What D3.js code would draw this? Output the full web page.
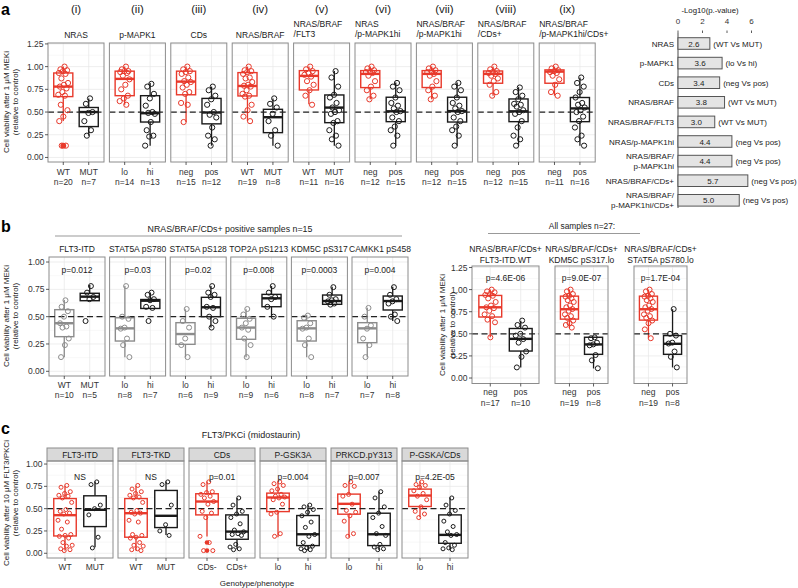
<!DOCTYPE html>
<html><head><meta charset="utf-8">
<script src="https://cdn.jsdelivr.net/npm/d3@7"></script>
<style>body{margin:0;background:#fff} svg{display:block} text{font-family:"Liberation Sans",Arial,Helvetica,sans-serif}</style>
</head><body><svg id="fig" width="798" height="588"></svg>
<script>
// ================= DATA =================
// ---- panel a (boxplots) ----
const aNumerals = ["(i)","(ii)","(iii)","(iv)","(v)","(vi)","(vii)","(viii)","(ix)"];
const aTitles = [["NRAS"],["p-MAPK1"],["CDs"],["NRAS/BRAF"],["NRAS/BRAF","/FLT3"],["NRAS","/p-MAPK1hi"],["NRAS/BRAF","/p-MAPK1hi"],["NRAS/BRAF","/CDs+"],["NRAS/BRAF","/p-MAPK1hi/CDs+"]];
const aGroups = [["WT","MUT"],["lo","hi"],["neg","pos"],["WT","MUT"],["WT","MUT"],["neg","pos"],["neg","pos"],["neg","pos"],["neg","pos"]];
const aCounts = [[20,7],[14,13],[15,12],[19,8],[11,16],[12,15],[12,15],[12,15],[11,16]];
const aYTicks = [0,0.25,0.5,0.75,1.0,1.25];
// box stats: [lower whisker, q1, median, q3, upper whisker]
const aBoxes = [
  [[0.40,0.67,0.78,0.93,1.0],[0.24,0.34,0.50,0.55,0.65]],
  [[0.58,0.68,0.865,0.95,1.0],[0.13,0.39,0.487,0.68,0.82]],
  [[0.39,0.69,0.835,0.95,1.0],[0.13,0.37,0.495,0.65,0.78]],
  [[0.40,0.677,0.787,0.934,1.0],[0.13,0.273,0.443,0.53,0.65]],
  [[0.585,0.743,0.898,0.956,1.0],[0.13,0.383,0.549,0.688,0.953]],
  [[0.64,0.769,0.92,0.956,1.0],[0.13,0.394,0.508,0.663,0.824]],
  [[0.64,0.77,0.92,0.956,1.0],[0.13,0.39,0.51,0.663,0.824]],
  [[0.68,0.817,0.92,0.952,1.0],[0.13,0.394,0.508,0.644,0.773]],
  [[0.68,0.817,0.945,0.964,1.0],[0.13,0.394,0.54,0.66,0.88]]
];
const aOutliers = [[[0.13],[]],[[],[]],[[],[]],[[],[]],[[],[]],[[],[]],[[],[]],[[],[]],[[],[]]];
const aPoints = [
  [[1.0,0.97,0.96,0.95,0.93,0.92,0.87,0.82,0.80,0.78,0.76,0.72,0.69,0.68,0.58,0.52,0.45,0.40,0.13,0.13],[0.65,0.59,0.50,0.49,0.40,0.30,0.24]],
  [[1.0,0.97,0.95,0.95,0.94,0.93,0.90,0.86,0.80,0.75,0.68,0.65,0.62,0.58],[0.81,0.78,0.70,0.65,0.57,0.50,0.49,0.48,0.39,0.30,0.24,0.23,0.13]],
  [[1.0,0.97,0.95,0.94,0.92,0.88,0.84,0.83,0.80,0.77,0.72,0.70,0.60,0.58,0.39],[0.78,0.74,0.68,0.64,0.58,0.50,0.47,0.44,0.33,0.24,0.20,0.13]],
  [[1.0,0.96,0.95,0.94,0.92,0.88,0.87,0.83,0.80,0.79,0.78,0.74,0.70,0.68,0.67,0.58,0.52,0.45,0.40],[0.65,0.59,0.55,0.48,0.40,0.30,0.24,0.13]],
  [[1.0,0.97,0.95,0.93,0.91,0.89,0.84,0.80,0.74,0.68,0.58],[0.95,0.88,0.78,0.69,0.66,0.60,0.55,0.52,0.50,0.48,0.40,0.38,0.30,0.24,0.20,0.13]],
  [[1.0,0.98,0.96,0.95,0.94,0.93,0.90,0.84,0.78,0.74,0.68,0.64],[0.82,0.78,0.74,0.66,0.60,0.57,0.54,0.51,0.50,0.44,0.40,0.34,0.30,0.24,0.13]],
  [[1.0,0.98,0.96,0.95,0.94,0.92,0.90,0.84,0.78,0.74,0.68,0.64],[0.82,0.78,0.74,0.66,0.60,0.57,0.54,0.51,0.50,0.44,0.40,0.34,0.30,0.24,0.13]],
  [[1.0,0.97,0.95,0.94,0.93,0.92,0.90,0.87,0.84,0.80,0.72,0.68],[0.77,0.72,0.68,0.64,0.59,0.58,0.56,0.52,0.50,0.48,0.40,0.33,0.24,0.20,0.13]],
  [[1.0,0.98,0.96,0.95,0.94,0.93,0.90,0.86,0.80,0.72,0.68],[0.88,0.82,0.78,0.72,0.66,0.60,0.58,0.55,0.52,0.50,0.45,0.40,0.33,0.24,0.20,0.13]]
];
// ---- panel a (bar chart) ----
const barCats = [["NRAS"],["p-MAPK1"],["CDs"],["NRAS/BRAF"],["NRAS/BRAF/FLT3"],["NRAS/p-MAPK1hi"],["NRAS/BRAF/","p-MAPK1hi"],["NRAS/BRAF/CDs+"],["NRAS/BRAF/","p-MAPK1hi/CDs+"]];
const barVals = [2.6,3.6,3.4,3.8,3.0,4.4,4.4,5.7,5.0];
const barNotes = ["(WT Vs MUT)","(lo Vs hi)","(neg Vs pos)","(WT Vs MUT)","(WT Vs MUT)","(neg Vs pos)","(neg Vs pos)","(neg Vs pos)","(neg Vs pos)"];
const barTicks = [0,2,4,6];

// ---- panel b (left) ----
const bTitles = ["FLT3-ITD","STAT5A pS780","STAT5A pS128","TOP2A pS1213","KDM5C pS317","CAMKK1 pS458"];
const bGroups = [["WT","MUT"],["lo","hi"],["lo","hi"],["lo","hi"],["lo","hi"],["lo","hi"]];
const bCounts = [[10,5],[8,7],[6,9],[9,6],[8,7],[7,8]];
const bPvals = ["p=0.012","p=0.03","p=0.02","p=0.008","p=0.0003","p=0.004"];
const bYTicks = [0,0.25,0.5,0.75,1.0];
const bBoxes = [
  [[0.128,0.317,0.44,0.564,0.652],[0.646,0.646,0.683,0.714,0.79]],
  [[0.128,0.277,0.393,0.49,0.78],[0.575,0.575,0.646,0.657,0.72]],
  [[0.128,0.247,0.341,0.445,0.567],[0.40,0.50,0.586,0.677,0.78]],
  [[0.128,0.293,0.40,0.485,0.567],[0.50,0.591,0.668,0.704,0.78]],
  [[0.128,0.277,0.393,0.463,0.515],[0.61,0.613,0.643,0.698,0.774]],
  [[0.128,0.262,0.393,0.445,0.582],[0.46,0.561,0.643,0.689,0.774]]
];
const bPoints = [
  [[0.65,0.59,0.55,0.50,0.44,0.41,0.40,0.30,0.24,0.13],[0.78,0.72,0.68,0.66,0.46]],
  [[0.78,0.50,0.48,0.40,0.39,0.30,0.24,0.13],[0.72,0.70,0.66,0.65,0.59,0.58,0.46]],
  [[0.57,0.46,0.40,0.30,0.24,0.13],[0.78,0.72,0.70,0.68,0.59,0.58,0.50,0.46,0.40]],
  [[0.57,0.52,0.48,0.44,0.40,0.38,0.30,0.24,0.13],[0.78,0.72,0.68,0.66,0.59,0.50]],
  [[0.51,0.49,0.44,0.40,0.39,0.30,0.24,0.13],[0.77,0.70,0.66,0.65,0.64,0.62,0.61]],
  [[0.58,0.50,0.42,0.39,0.30,0.24,0.13],[0.77,0.70,0.66,0.64,0.62,0.52,0.50,0.46]]
];

// ---- panel b (right) ----
const brTitles = [["NRAS/BRAF/CDs+","FLT3-ITD.WT"],["NRAS/BRAF/CDs+","KDM5C pS317.lo"],["NRAS/BRAF/CDs+","STAT5A pS780.lo"]];
const brGroups = [["neg","pos"],["neg","pos"],["neg","pos"]];
const brCounts = [[17,10],[19,8],[19,8]];
const brPvals = ["p=4.6E-06","p=9.0E-07","p=1.7E-04"];
const brBoxes = [
  [[0.46,0.69,0.80,0.934,1.0],[0.12,0.305,0.443,0.56,0.647]],
  [[0.566,0.666,0.778,0.926,1.0],[0.108,0.268,0.38,0.461,0.461]],
  [[0.45,0.655,0.778,0.926,1.0],[0.12,0.268,0.387,0.48,0.778]]
];
const brPoints = [
  [[1.0,0.98,0.97,0.95,0.94,0.93,0.90,0.86,0.82,0.80,0.79,0.76,0.72,0.70,0.66,0.63,0.46],[0.65,0.60,0.57,0.50,0.48,0.44,0.40,0.30,0.24,0.12]],
  [[1.0,0.98,0.95,0.93,0.92,0.90,0.88,0.86,0.82,0.80,0.78,0.76,0.72,0.70,0.68,0.65,0.62,0.60,0.57],[0.46,0.45,0.40,0.38,0.37,0.26,0.20,0.11]],
  [[1.0,0.98,0.95,0.93,0.92,0.90,0.88,0.86,0.82,0.80,0.78,0.76,0.72,0.70,0.68,0.65,0.62,0.55,0.45],[0.78,0.50,0.48,0.40,0.39,0.30,0.24,0.12]]
];

// ---- panel c ----
const cTitles = ["FLT3-ITD","FLT3-TKD","CDs","P-GSK3A","PRKCD.pY313","P-GSKA/CDs"];
const cGroups = [["WT","MUT"],["WT","MUT"],["CDs-","CDs+"],["lo","hi"],["lo","hi"],["lo","hi"]];
const cLabels = ["NS","NS","p=0.01","p=0.004","p=0.007","p=4.2E-05"];
const cYTicks = [0,0.25,0.5,0.75,1.0];
const cBoxes = [
  [[0.03,0.194,0.427,0.613,0.756],[0.067,0.299,0.487,0.644,0.805]],
  [[0.03,0.18,0.449,0.613,0.756],[0.205,0.288,0.42,0.704,0.805]],
  [[0.187,0.43,0.58,0.667,0.805],[0.045,0.157,0.243,0.43,0.618]],
  [[0.18,0.467,0.625,0.674,0.805],[0.03,0.086,0.213,0.423,0.543]],
  [[0.18,0.438,0.554,0.663,0.797],[0.037,0.086,0.213,0.449,0.692]],
  [[0.404,0.524,0.647,0.719,0.805],[0.045,0.112,0.206,0.43,0.625]]
];
const cOutliers = [[[],[]],[[],[]],[[0.12,0.03],[]],[[],[]],[[],[]],[[],[]]];
const cPoints = [
  [[0.76,0.74,0.69,0.67,0.65,0.64,0.62,0.57,0.49,0.47,0.45,0.44,0.37,0.35,0.27,0.21,0.20,0.19,0.17,0.12,0.09,0.08,0.05,0.04,0.03],[0.80,0.77,0.54,0.50,0.43,0.18,0.06]],
  [[0.76,0.72,0.69,0.67,0.65,0.63,0.62,0.57,0.48,0.46,0.45,0.44,0.37,0.35,0.21,0.20,0.18,0.17,0.12,0.09,0.08,0.05,0.04,0.03],[0.80,0.77,0.54,0.32,0.25,0.20]],
  [[0.80,0.77,0.69,0.68,0.66,0.64,0.62,0.58,0.55,0.47,0.45,0.40,0.19,0.12,0.03,0.03],[0.62,0.54,0.47,0.44,0.40,0.33,0.26,0.24,0.22,0.21,0.20,0.10,0.07,0.05,0.04]],
  [[0.80,0.78,0.76,0.72,0.70,0.66,0.64,0.63,0.62,0.60,0.55,0.46,0.44,0.22,0.19],[0.54,0.52,0.49,0.46,0.42,0.35,0.29,0.21,0.19,0.12,0.08,0.06,0.05,0.04,0.03]],
  [[0.80,0.76,0.75,0.66,0.64,0.55,0.48,0.46,0.42,0.36,0.22,0.19],[0.69,0.62,0.52,0.45,0.40,0.30,0.22,0.20,0.10,0.07,0.05,0.04]],
  [[0.80,0.77,0.76,0.74,0.70,0.67,0.64,0.60,0.52,0.47,0.44,0.40],[0.62,0.54,0.48,0.44,0.36,0.30,0.24,0.21,0.20,0.12,0.09,0.06,0.05,0.04]]
];

// ================= DRAWING =================
const RED = "#e8392b", BLK = "#1a1a1a", GRY = "#8c8c8c";
const TXT = "#333";
const svg = d3.select("#fig");
const fmt = d3.format(".2f");

function txt(g, x, y, s, size, anchor, extra) {
  const t = g.append("text").attr("x", x).attr("y", y).attr("font-size", size)
    .attr("text-anchor", anchor || "middle").attr("fill", (extra && extra.fill) || TXT).text(s);
  if (extra && extra.weight) t.attr("font-weight", extra.weight);
  return t;
}

function facet(o) {
  const g = svg.append("g");
  const x = d3.scalePoint().domain(o.groups).range([o.x0, o.x1]).padding(0.6);
  const step = x.step();
  const y = o.y;
  const yb = y.range()[0], yt = y.range()[1];
  for (let i = 0; i < o.ticks.length - 1; i++) {
    const m = (o.ticks[i] + o.ticks[i + 1]) / 2;
    g.append("line").attr("x1", o.x0).attr("x2", o.x1).attr("y1", y(m)).attr("y2", y(m)).attr("stroke", "#f3f3f3").attr("stroke-width", 0.6);
  }
  o.ticks.forEach(v => g.append("line").attr("x1", o.x0).attr("x2", o.x1).attr("y1", y(v)).attr("y2", y(v)).attr("stroke", "#e6e6e6").attr("stroke-width", 0.7));
  o.groups.forEach(gn => g.append("line").attr("x1", x(gn)).attr("x2", x(gn)).attr("y1", yt).attr("y2", yb).attr("stroke", "#e6e6e6").attr("stroke-width", 0.7));
  const bw = step * 0.75;
  o.groups.forEach((gn, k) => {
    const [wl, q1, md, q3, wh] = o.boxes[k];
    const col = o.colors[k], cx = x(gn);
    g.append("line").attr("x1", cx).attr("x2", cx).attr("y1", y(wh)).attr("y2", y(q3)).attr("stroke", col).attr("stroke-width", 1.3);
    g.append("line").attr("x1", cx).attr("x2", cx).attr("y1", y(q1)).attr("y2", y(wl)).attr("stroke", col).attr("stroke-width", 1.3);
    g.append("rect").attr("x", cx - bw / 2).attr("y", y(q3)).attr("width", bw).attr("height", Math.max(0.5, y(q1) - y(q3)))
      .attr("fill", "#fff").attr("stroke", col).attr("stroke-width", 1.4);
    g.append("line").attr("x1", cx - bw / 2).attr("x2", cx + bw / 2).attr("y1", y(md)).attr("y2", y(md)).attr("stroke", col).attr("stroke-width", 2.4);
    if (o.outliers) o.outliers[k].forEach(v => g.append("circle").attr("cx", cx).attr("cy", y(v)).attr("r", o.r + 0.3).attr("fill", col));
  });
  g.append("line").attr("x1", o.x0).attr("x2", o.x1).attr("y1", y(0.5)).attr("y2", y(0.5))
    .attr("stroke", "#222").attr("stroke-width", 1.2).attr("stroke-dasharray", "6,3.5");
  o.groups.forEach((gn, k) => {
    const col = o.colors[k], cx = x(gn);
    o.points[k].forEach((v, i) => {
      const j = (((i + 1) * 0.6180339) % 1 - 0.5) * step * o.jit;
      g.append("circle").attr("cx", cx + j).attr("cy", y(v)).attr("r", o.r)
        .attr("fill", "none").attr("stroke", col).attr("stroke-width", 1);
    });
  });
  g.append("rect").attr("x", o.x0).attr("y", yt).attr("width", o.x1 - o.x0).attr("height", yb - yt)
    .attr("fill", "none").attr("stroke", "#8c8c8c").attr("stroke-width", 1);
  o.groups.forEach((gn, k) => {
    g.append("line").attr("x1", x(gn)).attr("x2", x(gn)).attr("y1", yb).attr("y2", yb + 3).attr("stroke", "#333").attr("stroke-width", 0.8);
    txt(g, x(gn), yb + o.lab1, gn, 8.5);
    if (o.counts) txt(g, x(gn), yb + o.lab2, "n=" + o.counts[k], 8.5);
  });
  if (o.yAxis) {
    o.ticks.forEach(v => {
      g.append("line").attr("x1", o.x0 - 3).attr("x2", o.x0).attr("y1", y(v)).attr("y2", y(v)).attr("stroke", "#333").attr("stroke-width", 0.8);
      txt(g, o.x0 - 4.5, y(v) + 3, fmt(v), 8.5, "end");
    });
  }
  return { g, x };
}

function yTitle(lines, xs, cy, size) {
  lines.forEach((s, i) => {
    svg.append("text").attr("transform", `translate(${xs[i]},${cy}) rotate(-90)`).attr("text-anchor", "middle")
      .attr("font-size", size).attr("fill", "#222").text(s);
  });
}

// ---------- Panel a ----------
txt(svg, 1, 15, "a", 16, "start", { weight: "bold", fill: "#000" });
const yA = d3.scaleLinear().domain([-0.05, 1.26]).range([162, 43]);
aTitles.forEach((t, i) => {
  const x0 = 48 + i * 61.4, x1 = x0 + 56;
  facet({ x0, x1, y: yA, ticks: aYTicks, groups: aGroups[i], boxes: aBoxes[i], points: aPoints[i], outliers: aOutliers[i],
    colors: [RED, BLK], counts: aCounts[i], r: 2.6, jit: 0.42, lab1: 13, lab2: 22.5, yAxis: i === 0 });
  txt(svg, (x0 + x1) / 2, 12.5, aNumerals[i], 11.5, "middle", { fill: "#222" });
  if (t.length === 1) txt(svg, (x0 + x1) / 2, 37.5, t[0], 8.5, "middle", { fill: "#1a1a1a" });
  else { txt(svg, x0, 27, t[0], 8.5, "start", { fill: "#1a1a1a" }); txt(svg, x0, 37, t[1], 8.5, "start", { fill: "#1a1a1a" }); }
});
yTitle(["Cell viability after 1 \u03bcM MEKi", "(relative to control)"], [9, 18], 102, 8);

const xBar = d3.scaleLinear().domain([0, 6]).range([678, 751.5]);
const yBar = d3.scalePoint().domain(d3.range(barVals.length)).range([43.5, 200.3]);
const gb = svg.append("g");
txt(gb, 710, 12.5, "-Log10(p.-value)", 7.8, "middle", { fill: "#222" });
barTicks.forEach(v => {
  txt(gb, xBar(v), 24, String(v), 8, "middle");
  gb.append("line").attr("x1", xBar(v)).attr("x2", xBar(v)).attr("y1", 30.5).attr("y2", 33).attr("stroke", "#333").attr("stroke-width", 0.8);
});
gb.append("line").attr("x1", xBar(0)).attr("x2", xBar(0)).attr("y1", 33).attr("y2", 208).attr("stroke", "#333").attr("stroke-width", 0.9);
barVals.forEach((v, i) => {
  const cy = yBar(i);
  gb.append("rect").attr("x", xBar(0)).attr("y", cy - 5.8).attr("width", xBar(v) - xBar(0)).attr("height", 11.6)
    .attr("fill", "#e4e4e4").attr("stroke", "#555").attr("stroke-width", 1);
  txt(gb, (xBar(0) + xBar(v)) / 2, cy + 3, v.toFixed(1), 8, "middle", { fill: "#222" });
  txt(gb, xBar(v) + 3.5, cy + 3, barNotes[i], 8, "start", { fill: "#222" });
  const c = barCats[i];
  if (c.length === 1) txt(gb, 674, cy + 3, c[0], 8, "end", { fill: "#222" });
  else { txt(gb, 674, cy - 2.5, c[0], 8, "end", { fill: "#222" }); txt(gb, 674, cy + 7.5, c[1], 8, "end", { fill: "#222" }); }
});

// ---------- Panel b ----------
txt(svg, 1, 232, "b", 16, "start", { weight: "bold", fill: "#000" });
txt(svg, 230, 232, "NRAS/BRAF/CDs+ positive samples n=15", 8.8, "middle", { fill: "#222" });
svg.append("line").attr("x1", 55).attr("x2", 402).attr("y1", 236).attr("y2", 236).attr("stroke", "#999").attr("stroke-width", 1);
txt(svg, 582, 229, "All samples n=27:", 8.4, "middle", { fill: "#222" });
svg.append("line").attr("x1", 488).attr("x2", 640).attr("y1", 233.5).attr("y2", 233.5).attr("stroke", "#999").attr("stroke-width", 1);

const yBL = d3.scaleLinear().domain([-0.043, 1.046]).range([376, 257]);
bTitles.forEach((t, i) => {
  const x0 = 49 + i * 60.6, x1 = x0 + 56;
  facet({ x0, x1, y: yBL, ticks: bYTicks, groups: bGroups[i], boxes: bBoxes[i], points: bPoints[i],
    colors: [GRY, BLK], counts: bCounts[i], r: 2.5, jit: 0.4, lab1: 11.5, lab2: 21.5, yAxis: i === 0 });
  txt(svg, (x0 + x1) / 2, 252, t, 8.5, "middle", { fill: "#1a1a1a" });
  txt(svg, (x0 + x1) / 2, 273, bPvals[i], 8.5, "middle", { fill: "#1a1a1a" });
});
yTitle(["Cell viability after 1 \u03bcM MEKi", "(relative to control)"], [9, 18], 316, 8);

const yBR = d3.scaleLinear().domain([-0.062, 1.267]).range([383.5, 266]);
const brX = [[472, 539], [555, 608], [634, 687]];
brTitles.forEach((t, i) => {
  const [x0, x1] = brX[i];
  facet({ x0, x1, y: yBR, ticks: aYTicks, groups: brGroups[i], boxes: brBoxes[i], points: brPoints[i],
    colors: [RED, BLK], counts: brCounts[i], r: 2.5, jit: 0.4, lab1: 11.5, lab2: 22.5, yAxis: i === 0 });
  const cx = (x0 + x1) / 2;
  txt(svg, cx, 252, t[0], 8.5, "middle", { fill: "#1a1a1a" });
  txt(svg, cx, 263, t[1], 8.5, "middle", { fill: "#1a1a1a" });
  txt(svg, cx, 281, brPvals[i], 8.5, "middle", { fill: "#1a1a1a" });
});
yTitle(["Cell viability after 1 \u03bcM MEKi", "(relative to control)"], [445, 455], 325, 8);

// ---------- Panel c ----------
txt(svg, 1, 434, "c", 16, "start", { weight: "bold", fill: "#000" });
txt(svg, 251, 437.5, "FLT3/PKCi (midostaurin)", 9, "middle", { fill: "#222" });
const yC = d3.scaleLinear().domain([-0.053, 1.034]).range([558, 461]);
cTitles.forEach((t, i) => {
  const x0 = 47 + i * 71, x1 = x0 + 66;
  svg.append("rect").attr("x", x0).attr("y", 448).attr("width", x1 - x0).attr("height", 13)
    .attr("fill", "#d9d9d9").attr("stroke", "#8c8c8c").attr("stroke-width", 1);
  facet({ x0, x1, y: yC, ticks: cYTicks, groups: cGroups[i], boxes: cBoxes[i], points: cPoints[i], outliers: cOutliers[i],
    colors: [RED, BLK], counts: null, r: 2.0, jit: 0.5, lab1: 11.5, lab2: 0, yAxis: i === 0 });
  txt(svg, (x0 + x1) / 2, 458, t, 8.5, "middle", { fill: "#1a1a1a" });
  txt(svg, (x0 + x1) / 2, 479.5, cLabels[i], 8.5, "middle", { fill: "#1a1a1a" });
});
txt(svg, 257, 586, "Genotype/phenotype", 8, "middle", { fill: "#222" });
yTitle(["Cell viability after 10 \u03bcM FLT3/PKCi", "(relative to control)"], [9, 18], 503, 8);
</script></body></html>
